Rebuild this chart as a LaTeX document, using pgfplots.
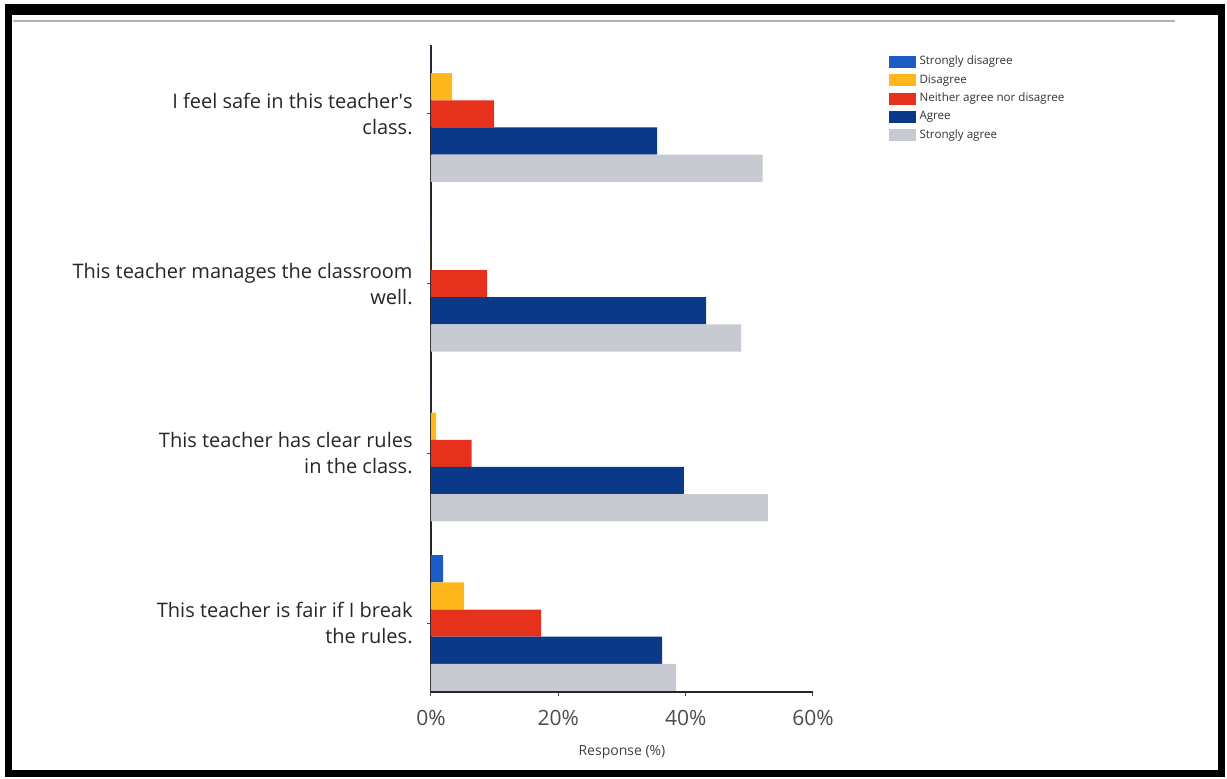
\documentclass[border=0pt]{standalone}
\usepackage{fontspec}
\setmainfont{Open Sans}
\usepackage{pgfplots}
\pgfplotsset{compat=1.18}
\definecolor{sdblue}{RGB}{28,92,196}
\definecolor{dyellow}{RGB}{255,183,30}
\definecolor{nred}{RGB}{230,50,28}
\definecolor{anavy}{RGB}{10,58,135}
\definecolor{sagray}{RGB}{200,202,210}
\begin{document}
\begin{tikzpicture}[x=1pt,y=1pt]
\useasboundingbox (-215.5,-43) rectangle (398,346);
\begin{axis}[
  at={(0,0)}, anchor=south west,
  scale only axis, width=191pt, height=323.5pt,
  xmin=0, xmax=60, ymin=-0.406, ymax=3.406,
  axis x line*=bottom, axis y line*=left,
  axis line style={black!85, line width=1pt},
  xbar, bar width=0.16,
  xtick={0,20,40,60}, xticklabels={0\%,20\%,40\%,60\%},
  ytick={0,1,2,3},
  yticklabels={{This teacher is fair if I break\\the rules.},{This teacher has clear rules\\in the class.},{This teacher manages the classroom\\well.},{I feel safe in this teacher\textquotesingle s\\class.}},
  tick align=outside, major tick length=2pt,
  tick style={black!70, line width=0.5pt},
  yticklabel style={align=right, anchor=east, inner sep=0pt, xshift=-7pt, font=\fontsize{10}{13}\selectfont, text=black!85},
  xticklabel style={anchor=center, inner sep=0pt, yshift=-11pt, font=\fontsize{10.5}{12}\selectfont, text=black!70},
  xlabel={Response (\%)},
  xlabel style={at={(axis description cs:0.5,0)}, anchor=center, yshift=-30pt, font=\fontsize{7}{8}\selectfont, text=black!75},
  legend image code/.code={\fill[#1] (0pt,-3pt) rectangle (13.5pt,3pt);},
  legend style={at={(1.181,0.993)}, anchor=north west, draw=none, fill=none,
    font=\fontsize{5.8}{6.2}\selectfont, text=black!80, cells={anchor=west}, row sep=1.4pt,
    nodes={inner sep=1pt}, /tikz/every odd column/.append style={column sep=1pt}},
]
\addplot[draw=none, fill=sdblue, bar shift=0.32] coordinates {(1.9,0) (0,1) (0,2) (0,3)};
\addlegendentry{Strongly disagree}
\addplot[draw=none, fill=dyellow, bar shift=0.16] coordinates {(5.2,0) (0.8,1) (0,2) (3.3,3)};
\addlegendentry{Disagree}
\addplot[draw=none, fill=nred, bar shift=0] coordinates {(17.3,0) (6.4,1) (8.8,2) (9.9,3)};
\addlegendentry{Neither agree nor disagree}
\addplot[draw=none, fill=anavy, bar shift=-0.16] coordinates {(36.3,0) (39.7,1) (43.2,2) (35.5,3)};
\addlegendentry{Agree}
\addplot[draw=none, fill=sagray, bar shift=-0.32] coordinates {(38.5,0) (52.9,1) (48.7,2) (52.1,3)};
\addlegendentry{Strongly agree}
\end{axis}
\draw[line width=3.5pt] (-211.25,340) rectangle (395.25,-40.5);
\draw[line width=4pt] (-213,342) -- (397,342);
\draw[gray!60, line width=1pt] (-209,335.5) -- (372,335.5);
\end{tikzpicture}
\end{document}
